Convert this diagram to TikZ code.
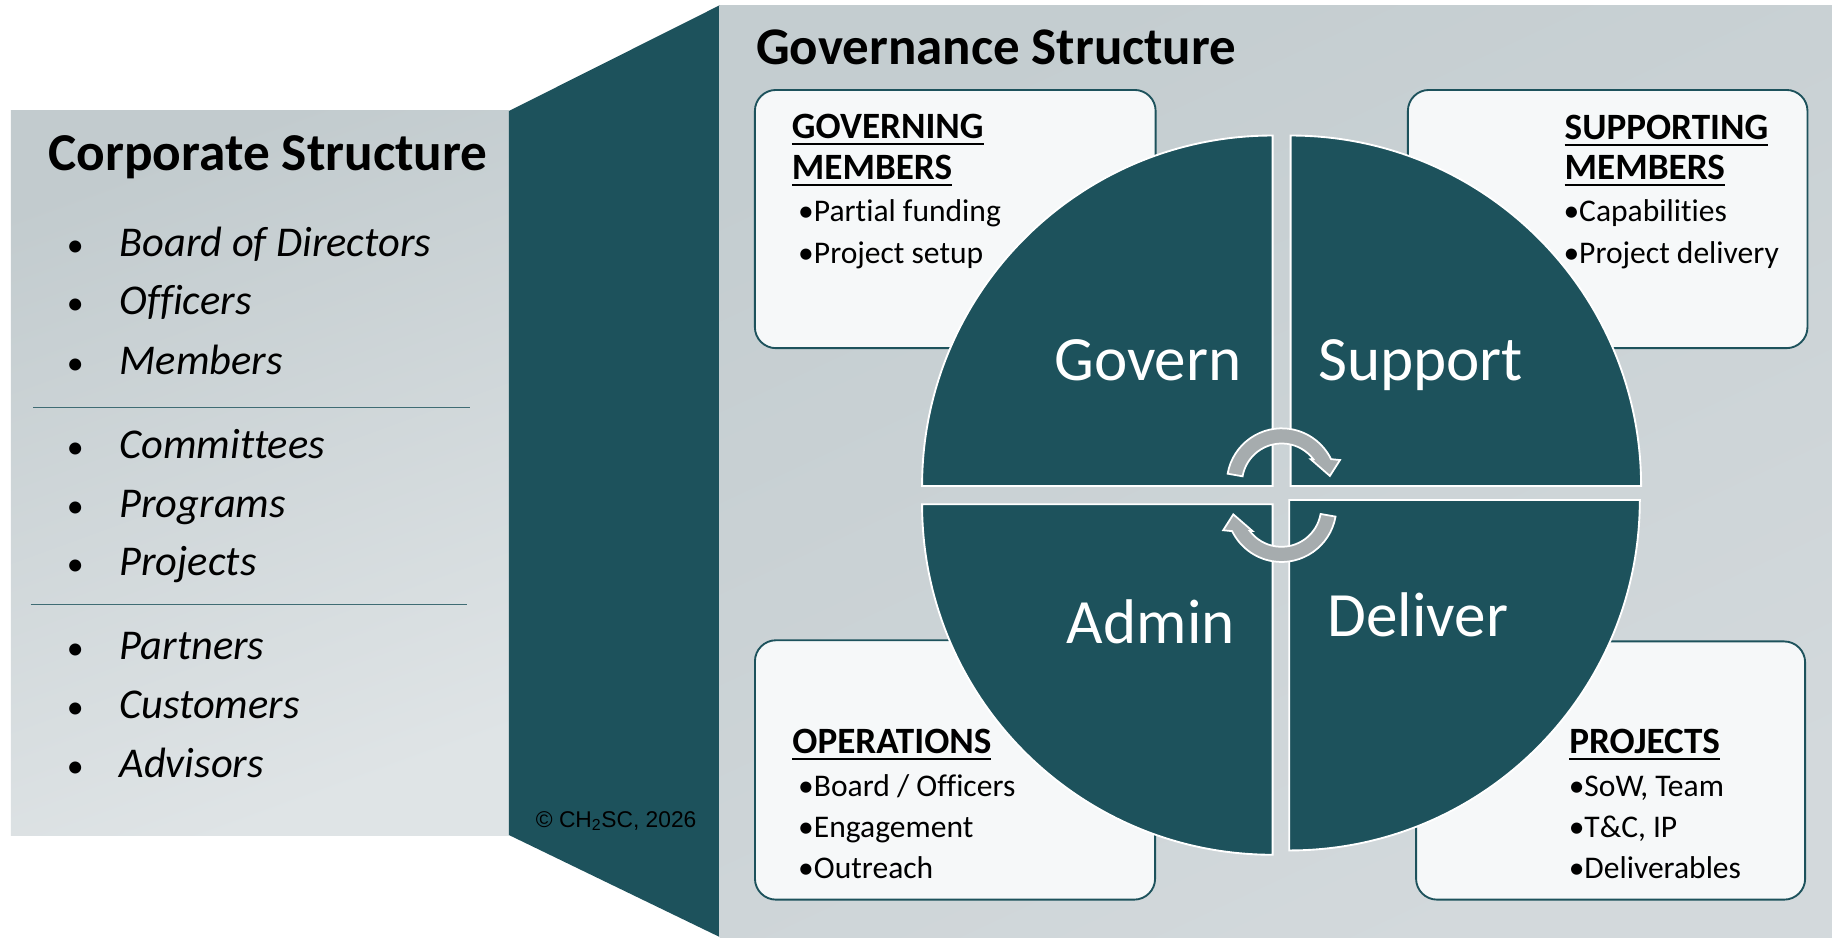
\documentclass[tikz,border=0pt]{standalone}
\usepackage{fontspec}
\setmainfont{Carlito}[Ligatures=NoCommon]
\newfontfamily\arialfont{Liberation Sans}
\usepackage{xcolor}
\usepackage{tikz}
\usetikzlibrary{positioning,calc}

\definecolor{govteal}{RGB}{29,82,92}
\definecolor{panelgray}{RGB}{194,203,206}
\definecolor{panellight}{RGB}{223,228,230}
\definecolor{govgray}{RGB}{196,205,208}
\definecolor{govlight}{RGB}{211,217,220}
\definecolor{cardwhite}{RGB}{246,248,249}
\definecolor{cycgray}{RGB}{166,172,174}

\newcommand\ulhead[1]{\setbox0\hbox{#1}\leavevmode\rlap{\rule[-5.7pt]{\wd0}{1.8pt}}\box0}

\begin{document}
\begin{tikzpicture}[x=1pt,y=1pt,
  quad/.style={fill=govteal,draw=white,line width=1.6pt},
  card/.style={draw=govteal,fill=cardwhite,line width=1.6pt,rounded corners=18pt,inner sep=0pt},
  cyc/.style={fill=cycgray,draw=white,line width=1.5pt},
  qlabel/.style={text=white,font=\fontsize{54}{60}\selectfont,inner sep=0pt},
  head/.style={font=\bfseries\fontsize{31.8}{35}\selectfont,anchor=base west,inner sep=0pt},
  item/.style={font=\fontsize{27}{35}\selectfont,anchor=base west,inner sep=0pt},
  corp/.style={font=\itshape\fontsize{36.3}{40}\selectfont,anchor=base west,inner sep=0pt},
  cdot/.style={font=\fontsize{29}{40}\selectfont,anchor=base,inner sep=0pt},
  divider/.style={draw=govteal!85!white,line width=0.9pt}]
\useasboundingbox (0,0) rectangle (1568,802);
\fill[white] (0,0) rectangle (1568,802);

% corporate side
\shade[top color=panelgray,bottom color=panellight,shading angle=20] (9.4,87.3) rectangle (435.6,707);
\node[font=\bfseries\fontsize{45.6}{50}\selectfont,anchor=base west,inner sep=0pt] (corptitle) at (41.4,655.9) {Corporate Structure};
\foreach \txt/\yb [count=\i] in {Board of Directors/582.3,Officers/532.4,Members/481.6,
    Committees/409.7,Programs/359.2,Projects/309,Partners/237.7,Customers/187.2,Advisors/136.7}{
  \node[cdot] (cdot\i) at (64.5,\yb) {•};
  \node[corp] (corp\i) at (102.1,\yb) {\txt};
}
\draw[divider] (28.5,453.4) -- (402,453.4);
\draw[divider] (26.2,284.5) -- (399.6,284.5);

% link band and governance panel
\fill[govteal] (435.6,707) -- (616,797.5) -- (616,0) -- (435.6,87.3) -- cycle;
\shade[top color=govgray,bottom color=govlight,shading angle=25] (616,0) rectangle (1568,797.5);
\node[font=\bfseries\fontsize{45.3}{50}\selectfont,anchor=base west,inner sep=0pt] (govtitle) at (647,746.4) {Governance Structure};
\node[font=\arialfont\fontsize{19.5}{22}\selectfont,anchor=base west,inner sep=0pt] (copyr) at (458.5,94) {© CH\textsubscript{2}SC, 2026};

% member cards
\node[card,minimum width=343,minimum height=221] (govbox) at (817.6,614.5) {};
\node[card,minimum width=342,minimum height=221] (supbox) at (1376,614.5) {};
\node[card,minimum width=342.5,minimum height=222] (admbox) at (817.4,143) {};
\node[card,minimum width=333,minimum height=221] (delbox) at (1378.5,142.5) {};

% circle quadrants
\draw[quad] (1089.2,386) -- ++(-300,0) arc[start angle=180,end angle=90,radius=300] -- cycle;
\draw[quad] (1104.6,386) -- ++(0,300) arc[start angle=90,end angle=0,radius=300] -- cycle;
\draw[quad] (1089.2,370.4) -- ++(0,-300) arc[start angle=270,end angle=180,radius=300] -- cycle;
\draw[quad] (1103.5,374.1) -- ++(300,0) arc[start angle=0,end angle=-90,radius=300] -- cycle;

\node[qlabel,anchor=base east] (govern) at (1062.7,476) {Govern};
\node[qlabel,anchor=base west] (support) at (1128,476) {Support};
\node[qlabel,anchor=base west] (admin) at (913,251.4) {Admin};
\node[qlabel,anchor=base west] (deliver) at (1136,257) {Deliver};

% cycle arrows
\draw[cyc,shift={(1097,388.4)}] (170:47) arc[start angle=170,end angle=26,radius=47]
  -- (21.7:53.7) -- (8.6:41.7) -- (39.6:32.2) -- (37:34) arc[start angle=37,end angle=170,radius=34] -- cycle;
\draw[cyc,rotate around={180:(1096.9,378.2)},shift={(1097,388.4)}] (170:47) arc[start angle=170,end angle=26,radius=47]
  -- (21.7:53.7) -- (8.6:41.7) -- (39.6:32.2) -- (37:34) arc[start angle=37,end angle=170,radius=34] -- cycle;

% card texts
\node[head] (govh1) at (677.6,683.6) {\ulhead{GOVERNING}};
\node[head] (govh2) at (677.6,648.5) {\ulhead{MEMBERS}};
\node[item] (gov1) at (683,612.3) {•Partial funding};
\node[item] (gov2) at (683,576.6) {•Project setup};

\node[head] (suph1) at (1339,683) {\ulhead{SUPPORTING}};
\node[head] (suph2) at (1339,648.5) {\ulhead{MEMBERS}};
\node[item] (sup1) at (1338,612.3) {•Capabilities};
\node[item] (sup2) at (1338,576.6) {•Project delivery};

\node[head] (admh) at (678,157.3) {\ulhead{OPERATIONS}};
\node[item] (adm1) at (683,120.1) {•Board / Officers};
\node[item] (adm2) at (683,85.4) {•Engagement};
\node[item] (adm3) at (683,50.2) {•Outreach};

\node[head] (delh) at (1342.9,157.3) {\ulhead{PROJECTS}};
\node[item] (del1) at (1342.5,120.1) {•SoW, Team};
\node[item] (del2) at (1342.5,85.4) {•T\&C, IP};
\node[item] (del3) at (1342.5,50.2) {•Deliverables};
\end{tikzpicture}
\end{document}
